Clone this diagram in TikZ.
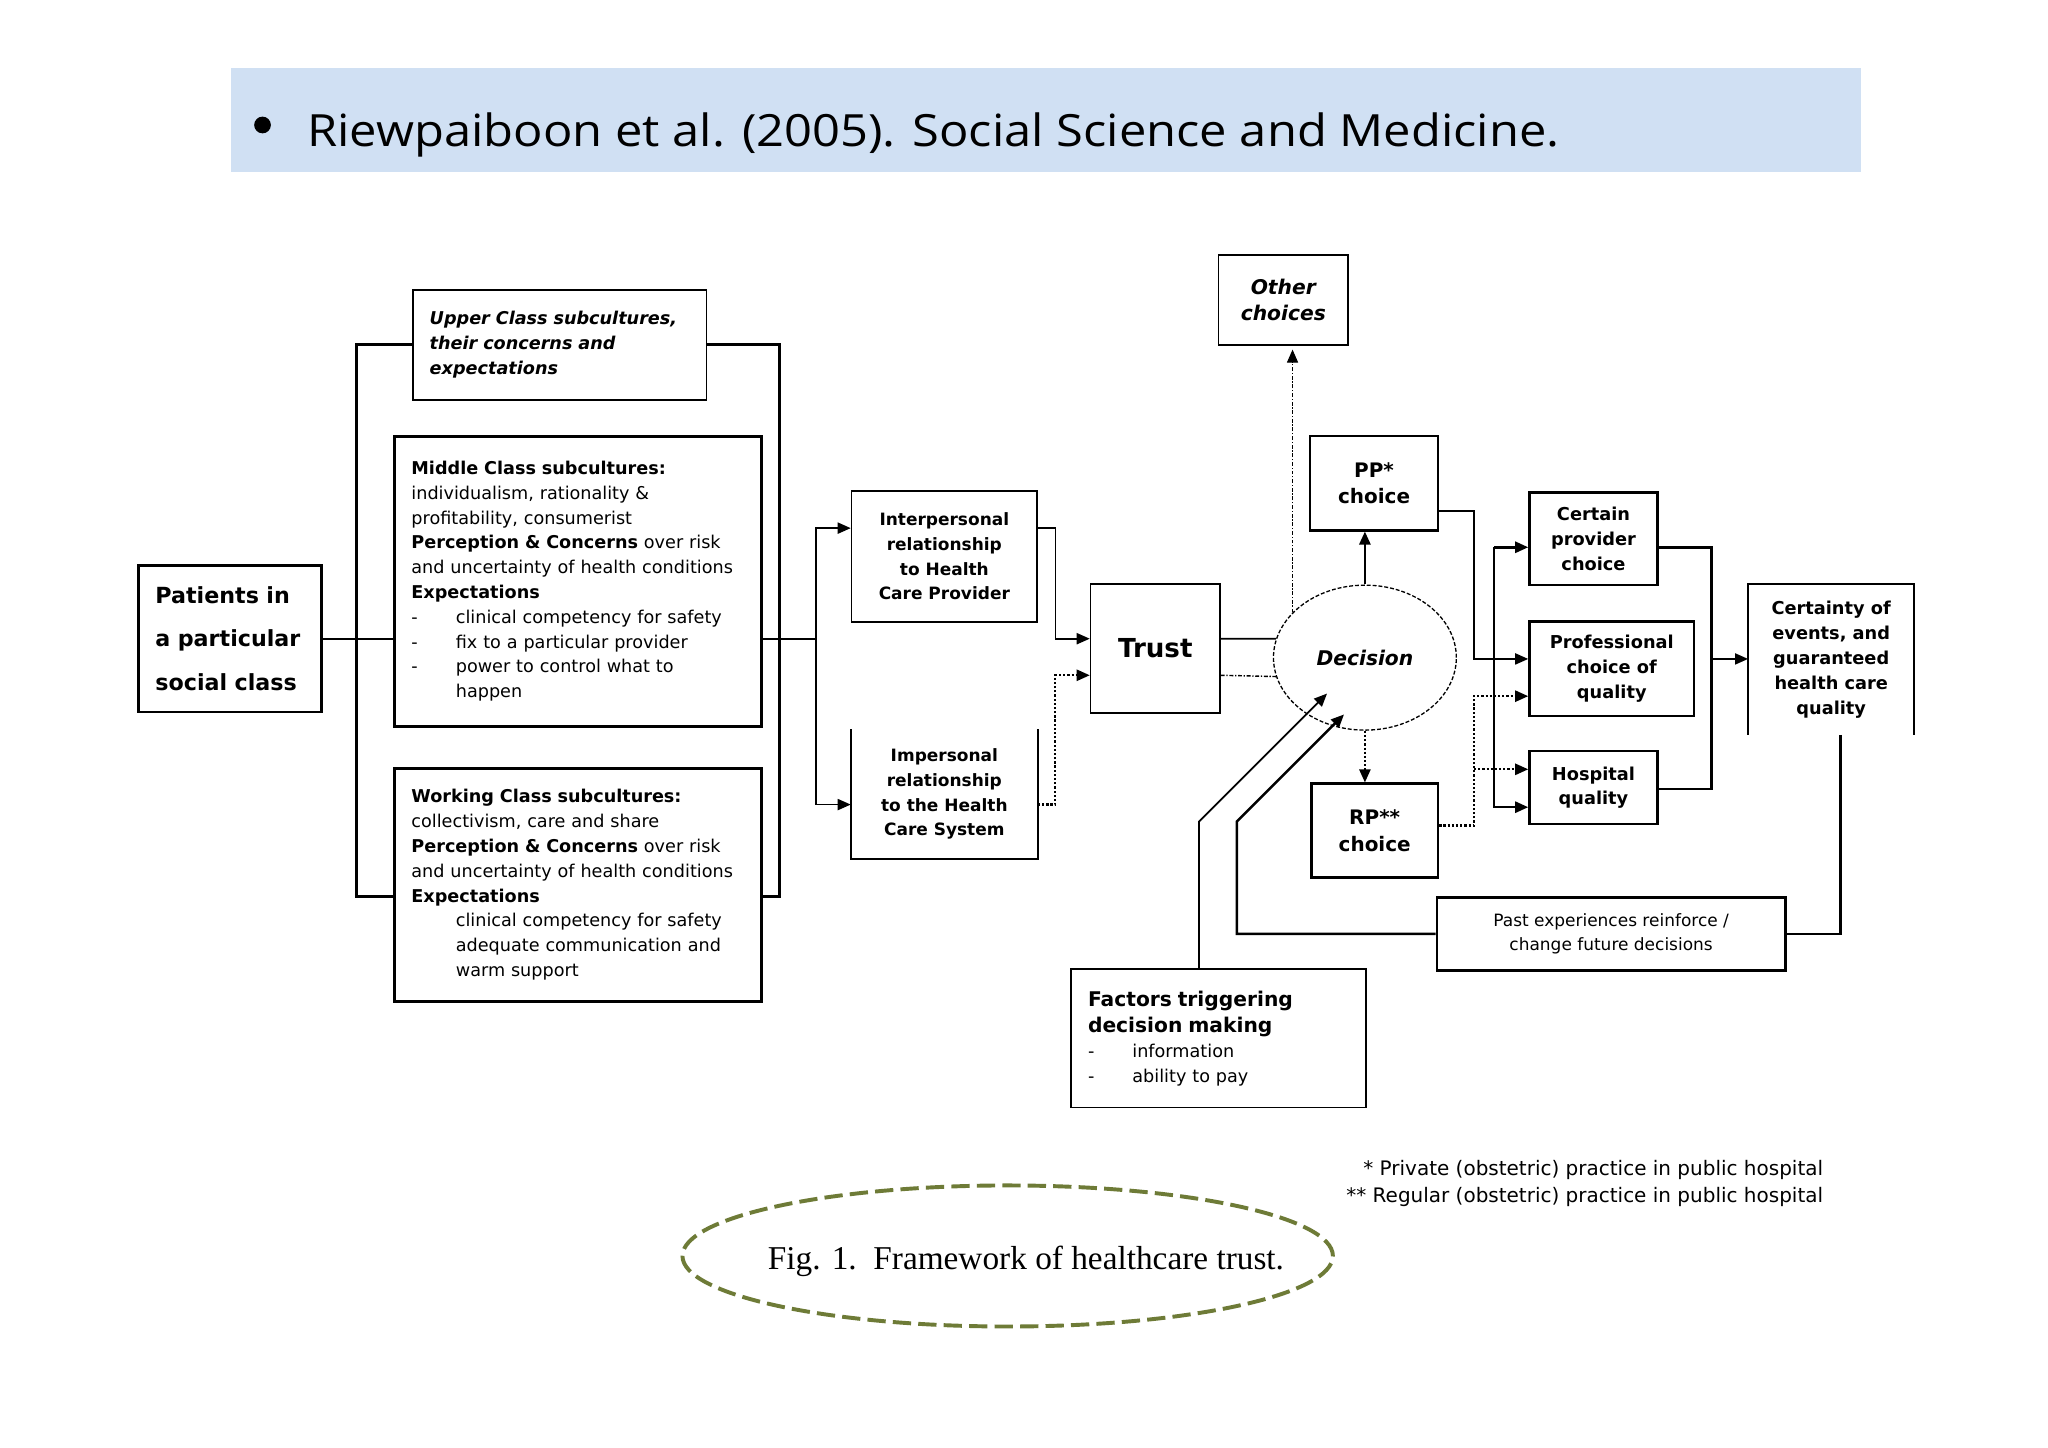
\documentclass[tikz,border=0pt]{standalone}
\usepackage{fontspec}
\usepackage{tikz}
\usetikzlibrary{arrows.meta, calc, shapes.geometric}
\newfontfamily\dv{DejaVu Sans}
\newfontfamily\hdrfont{Open Sans}
\newfontfamily\capfont{Liberation Serif}
\definecolor{hdrblue}{RGB}{208,224,243}
\definecolor{ringolive}{RGB}{110,123,55}
\newcommand{\setfs}[2]{\fontsize{#1}{#2}\selectfont}
\newcommand{\dashitem}{\makebox[34pt][l]{-}}

\begin{document}
\begin{tikzpicture}[x=1pt, y=-1pt, font=\dv\setfs{13.5}{19},
  wh/.style 2 args={minimum width=#1pt, minimum height=#2pt},
  box/.style={draw, line width=1.3pt, inner xsep=13pt, inner ysep=0pt, align=left},
  cbox/.style={draw, line width=1.3pt, inner sep=0pt, align=center},
  heavy/.style={line width=2.3pt},
  link/.style={line width=1.3pt},
  dotlink/.style={line width=1.7pt, dash pattern=on 1.7pt off 1.5pt},
  dashdotlink/.style={line width=1.1pt, dash pattern=on 3pt off 1.3pt on 1pt off 1.3pt},
  >={Triangle[length=10pt,width=8.5pt]}]

	\fill[white] (0,0) rectangle (1568,1108);
	\useasboundingbox (0,0) rectangle (1568,1108);

	% header
	\fill[hdrblue] (177,52) rectangle (1425,131.5);
	\fill (201,95.7) circle (6.4);
	\node[anchor=base west, inner sep=0pt, font=\hdrfont\setfs{34}{40}] (citation) at (235,112.3) {\scalebox{1.1}[1]{Riewpaiboon et al. (2005). Social Science and Medicine.}};

	% social classes
	\node[box, line width=1.9pt, wh={140}{112}, text width=114pt, font=\dv\bfseries\setfs{17}{33}] (patients) at (176,489) {Patients in\\a particular\\social class};
	\node[box, wh={225}{84}, text width=199pt, font=\dv\bfseries\itshape\setfs{13.5}{19}] (upper) at (428.5,264) {Upper Class subcultures,\\their concerns and\\expectations};
	\node[box, heavy, wh={281}{222}, text width=255pt] (middle) at (442.5,445) {{\bfseries Middle Class subcultures:}\\individualism, rationality \&\\profitability, consumerist\\{\bfseries Perception \& Concerns} over risk\\and uncertainty of health conditions\\{\bfseries Expectations}\\\dashitem clinical competency for safety\\\dashitem fix to a particular provider\\\dashitem power to control what to\\\hspace*{34pt}happen};
	\node[box, heavy, wh={281}{179}, text width=255pt] (working) at (442.5,677.5) {{\bfseries Working Class subcultures:}\\collectivism, care and share\\{\bfseries Perception \& Concerns} over risk\\and uncertainty of health conditions\\{\bfseries Expectations}\\\hspace*{34pt}clinical competency for safety\\\hspace*{34pt}adequate communication and\\\hspace*{34pt}warm support};

	% relationships and trust
	\node[cbox, wh={142}{100}, font=\dv\bfseries\setfs{13}{19}] (inter) at (723,426) {Interpersonal\\relationship\\to Health\\Care Provider};
	\node[cbox, draw=none, wh={142}{98}, font=\dv\bfseries\setfs{13}{19}] (imper) at (723,608) {Impersonal\\relationship\\to the Health\\Care System};
	\draw[link] (imper.north west) -- (imper.south west) -- (imper.south east) -- (imper.north east);
	\node[cbox, wh={99}{99}, font=\dv\bfseries\setfs{20}{24}] (trust) at (884.5,496.5) {Trust};

	% decision and choices
	\node[cbox, wh={99}{69}, font=\dv\bfseries\itshape\setfs{15.5}{20}] (other) at (982.5,229.5) {Other\\choices};
	\node[ellipse, draw, line width=1pt, dash pattern=on 3pt off 1.5pt, wh={140}{111}, inner sep=0pt, font=\dv\bfseries\itshape\setfs{15.5}{20}] (decision) at (1045,503.5) {Decision};
	\node[cbox, line width=1.9pt, wh={98}{72}, font=\dv\bfseries\setfs{15.3}{20.5}] (pp) at (1052,370) {PP*\\choice};
	\node[cbox, line width=1.9pt, wh={97}{72}, font=\dv\bfseries\setfs{15.3}{20.5}] (rp) at (1052.5,636) {RP**\\choice};
	\node[cbox, line width=1.9pt, wh={98}{71}, font=\dv\bfseries\setfs{13.6}{19}] (certain) at (1220,412.5) {Certain\\provider\\choice};
	\node[cbox, line width=1.9pt, wh={126}{72}, font=\dv\bfseries\setfs{13.6}{19}] (prof) at (1234,512) {Professional\\choice of\\quality};
	\node[cbox, line width=1.9pt, wh={98}{56}, font=\dv\bfseries\setfs{13.6}{19}] (hosp) at (1220,603) {Hospital\\quality};
	\node[cbox, draw=none, wh={126}{114}, font=\dv\bfseries\setfs{13.6}{19}] (certainty) at (1402,505) {Certainty of\\events, and\\guaranteed\\health care\\quality};
	\draw[link] (certainty.south west) -- (certainty.north west) -- (certainty.north east) -- (certainty.south east);
	\node[cbox, line width=1.9pt, wh={267}{56}, font=\dv\setfs{13}{18}] (past) at (1233.5,715) {Past experiences reinforce /\\change future decisions};
	\node[box, wh={226}{106}, text width=200pt] (factors) at (933,795) {\setfs{15.5}{20}\bfseries Factors triggering\\decision making\\ \setfs{13.5}{19}\mdseries\dashitem information\\\dashitem ability to pay};

	% bends
	\coordinate (brl) at (273,686);
	\coordinate (brr) at (597,686);
	\coordinate (split) at (625,489);
	\coordinate (tA) at (808,489);
	\coordinate (tB) at (808,517);
	\coordinate (c1) at (1128.5,391);
	\coordinate (c2) at (1128.5,504.5);
	\coordinate (c3) at (1144,419);
	\coordinate (c4) at (1144,618);
	\coordinate (c5) at (1128.5,632);
	\coordinate (c6) at (1128.5,533);
	\coordinate (c7) at (1128.5,589);
	\coordinate (c8) at (1310.5,419);
	\coordinate (c9) at (1310.5,604);
	\coordinate (c10) at (1310.5,504.5);
	\coordinate (c11) at (1409,715);
	\coordinate (fb1) at (918,629);
	\coordinate (fb2) at (947,629);
	\coordinate (ftip) at (1016,531);
	\coordinate (ptip) at (1029,547);

	\draw[link] (patients.east) -- (patients.east -| middle.west);
	\draw[heavy] (upper.west) -| (brl) -- (brl -| working.west);
	\draw[heavy] (upper.east) -| (brr) -- (brr -| working.east);
	\draw[link] (split -| middle.east) -- (split);
	\draw[link, ->] (split) |- ($(inter.north west)+(0,29)$);
	\draw[link, ->] (split) |- ($(imper.west)+(0,8)$);

	\draw[link, ->] ($(inter.north east)+(0,29)$) -| (tA) -- (tA -| trust.west);
	\draw[dotlink, ->] ($(imper.east)+(0,8)$) -| (tB) -- (tB -| trust.west);
	\draw[link] (tA -| trust.east) -- (decision.168);
	\draw[dashdotlink] (tB -| trust.east) -- (decision.192);

	\draw[link, line width=1.9pt, ->] (decision.north) -- (decision.north |- pp.south);
	\draw[dotlink, ->] (decision.south) -- (decision.south |- rp.north);
	\draw[dashdotlink, line width=0.8pt, ->, shorten >=3pt] (decision.148) -- (decision.148 |- other.south);

	\draw[link, ->] (c1 -| pp.east) -- (c1) -- (c2) -- (c2 -| prof.west);
	\draw[link, line width=1.9pt, ->] (c3) -- (c3 -| certain.west);
	\draw[link, line width=1.9pt, ->] (c3) -- (c4) -- (c4 -| hosp.west);
	\draw[dotlink, ->] (c5 -| rp.east) -- (c5) -- (c6) -- (c6 -| prof.west);
	\draw[dotlink, ->] (c7) -- (c7 -| hosp.west);
	\draw[link, line width=1.9pt] (c8 -| certain.east) -- (c8) -- (c9) -- (c9 -| hosp.east);
	\draw[link, ->] (c10) -- (c10 -| certainty.west);

	\draw[link, line width=1.9pt] (certainty.south -| c11) -- (c11) -- (past.east);
	\draw[link, line width=1.9pt, ->] (past.west) -| (fb2) -- (ptip);
	\draw[link, ->] (factors.north -| fb1) -- (fb1) -- (ftip);

	% notes and caption
	\node[anchor=east, align=right, inner sep=0pt, font=\dv\setfs{15.3}{20.5}] (notes) at (1396,906) {* Private (obstetric) practice in public hospital\\** Regular (obstetric) practice in public hospital};
	\node[ellipse, draw=ringolive, line width=3pt, dash pattern=on 14pt off 5.5pt, wh={498}{108}, inner sep=0pt] (capring) at (771.5,961.6) {};
	\node[inner sep=0pt, font=\capfont\setfs{25.5}{30}] (figcap) at (785.5,966) {Fig. 1.\ \ Framework of healthcare trust.};

\end{tikzpicture}
\end{document}
